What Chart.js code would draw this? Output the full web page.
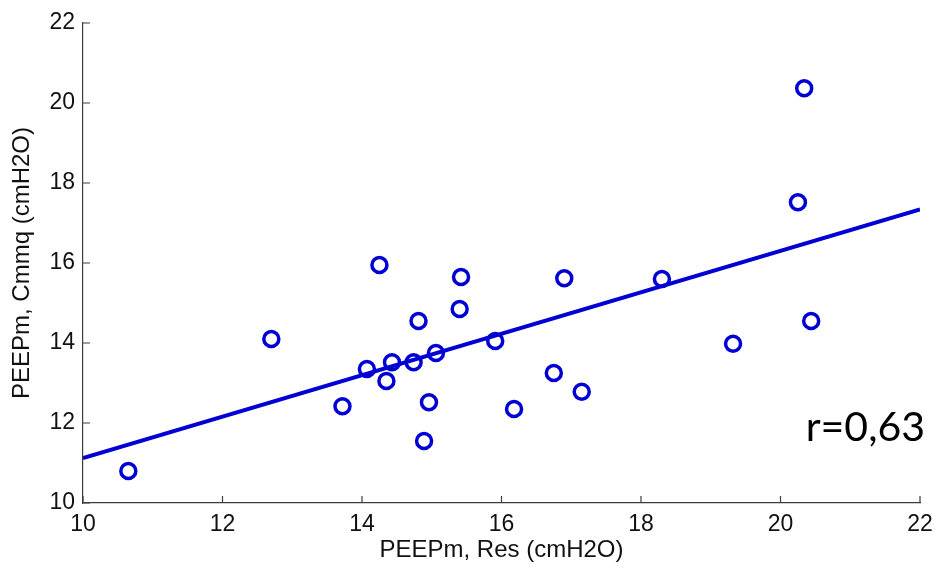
<!DOCTYPE html>
<html>
<head>
<meta charset="utf-8">
<script src="https://cdn.jsdelivr.net/npm/chart.js@4"></script>
<style>
  html, body { margin: 0; padding: 0; background: #fff; }
  #wrap { width: 938px; height: 574px; }
</style>
</head>
<body>
<div id="wrap"><canvas id="myChart"></canvas></div>
<script>
// PEEPm measured by resistance method (x) vs Cmmq method (y)
const resValues = [10.65, 12.70, 13.72, 14.07, 14.25, 14.35, 14.43, 14.74, 14.81, 14.89, 14.96, 15.06,
                   15.40, 15.42, 15.91, 16.18, 16.75, 16.90, 17.15, 18.30, 19.32, 20.25, 20.34, 20.44];
const cmmqValues = [10.80, 14.10, 12.42, 13.35, 15.95, 13.05, 13.52, 13.52, 14.55, 11.55, 12.52, 13.75,
                    14.85, 15.65, 14.05, 12.35, 13.25, 15.62, 12.78, 15.60, 13.98, 17.52, 20.37, 14.55];
// regression line ends
const fitX = [10, 22];
const fitY = [11.12, 17.34];
const tickValues = [10, 12, 14, 16, 18, 20, 22];
const rLabel = 'r=0,63';

const blue = '#0000d4';
const axisColor = '#3c3c3c';
const sans = "'Liberation Sans', Arial, sans-serif";

const scatterPts = resValues.map((x, i) => ({ x: x, y: cmmqValues[i] }));
const fitPts = fitX.map((x, i) => ({ x: x, y: fitY[i] }));

// small inward tick marks + r label
const extras = {
  id: 'extras',
  afterDraw(chart) {
    const c = chart.ctx;
    const xs = chart.scales.x, ys = chart.scales.y;
    const a = chart.chartArea;
    c.save();
    c.strokeStyle = axisColor;
    c.lineWidth = 1.2;
    c.beginPath();
    tickValues.forEach(v => {
      const px = xs.getPixelForValue(v);
      c.moveTo(px, a.bottom);
      c.lineTo(px, a.bottom - 7);
      const py = ys.getPixelForValue(v);
      c.moveTo(a.left, py);
      c.lineTo(a.left + 7, py);
    });
    c.stroke();
    c.fillStyle = '#000';
    c.font = "41px 'Lato'";
    c.textAlign = 'right';
    c.textBaseline = 'alphabetic';
    c.fillText(rLabel, a.right + 5, a.bottom - 62);
    c.restore();
  }
};

const ctx = document.getElementById('myChart');
new Chart(ctx, {
  type: 'scatter',
  data: {
    datasets: [{
      label: 'Ajuste',
      type: 'line',
      data: fitPts,
      borderColor: blue,
      borderWidth: 4,
      pointRadius: 0,
      fill: false,
      tension: 0,
      order: 2
    }, {
      label: 'Pacientes',
      data: scatterPts,
      borderColor: blue,
      backgroundColor: 'rgba(0,0,0,0)',
      borderWidth: 3.5,
      pointRadius: 7.5,
      pointHoverRadius: 7.5,
      order: 1
    }]
  },
  options: {
    responsive: true,
    maintainAspectRatio: false,
    animation: false,
    devicePixelRatio: 1,
    layout: { padding: { top: 23, right: 18, left: 0, bottom: 0 } },
    plugins: {
      legend: { display: false },
      tooltip: { enabled: false }
    },
    scales: {
      x: {
        type: 'linear',
        min: 10, max: 22,
        afterBuildTicks: s => { s.ticks = tickValues.map(v => ({ value: v })); },
        afterFit: s => { s.height = 71; s.paddingRight = 0; s.paddingLeft = 0; },
        grid: { display: false, drawTicks: false },
        border: { display: true, color: axisColor, width: 1.2 },
        ticks: { color: '#111', padding: 8, maxRotation: 0, font: { family: sans, size: 23 } },
        title: {
          display: true, text: 'PEEPm, Res (cmH2O)', color: '#111',
          font: { family: sans, size: 24 }, padding: { top: 0, bottom: 9 }
        }
      },
      y: {
        type: 'linear',
        min: 10, max: 22,
        afterBuildTicks: s => { s.ticks = tickValues.map(v => ({ value: v })); },
        afterFit: s => { s.width = 83; },
        grid: { display: false, drawTicks: false },
        border: { display: true, color: axisColor, width: 1.2 },
        ticks: { color: '#111', padding: 8, font: { family: sans, size: 23 } },
        title: {
          display: true, text: 'PEEPm, Cmmq (cmH2O)', color: '#111',
          font: { family: sans, size: 24 }, padding: { top: 8, bottom: 0 }
        }
      }
    }
  },
  plugins: [extras]
});
</script>
</body>
</html>
